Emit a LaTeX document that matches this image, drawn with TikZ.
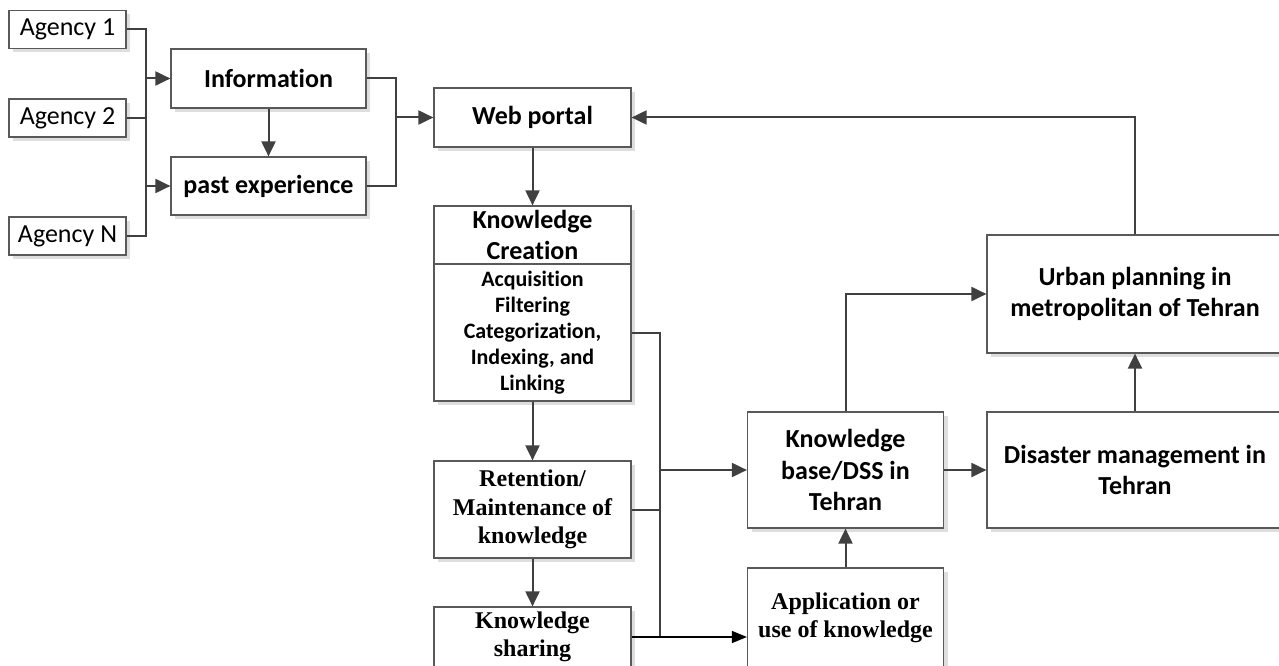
\documentclass[tikz,border=0pt]{standalone}
\usepackage{fontspec}
\setmainfont{Carlito}[Ligatures=NoCommon]
\newfontfamily\timesbold{Liberation Serif}
\usetikzlibrary{arrows.meta,shadows}
\definecolor{edgegray}{HTML}{595959}
\definecolor{wiregray}{HTML}{404040}
\tikzset{
	box/.style = {draw=edgegray, line width=1.2pt, fill=white, inner sep=0pt, align=center,
		drop shadow={shadow xshift=4pt, shadow yshift=-4pt, fill=black!13, opacity=1},
		font=\fontsize{26}{31.5}\selectfont\bfseries},
	agency/.style = {box, minimum width=117pt, minimum height=38pt, font=\fontsize{26}{31}\selectfont},
	smallbox/.style = {box, font=\fontsize{22}{26}\selectfont\bfseries},
	serifbox/.style = {box, font=\fontsize{24}{28.5}\selectfont\timesbold\bfseries},
	wire/.style = {draw=wiregray, line width=2pt},
	flow/.style = {wire, -{Triangle[length=15pt,width=14pt]}},
	thinflow/.style = {draw=black, line width=1.4pt, -{Triangle[length=15pt,width=12pt]}}
}
\begin{document}
\begin{tikzpicture}[x=1pt, y=-1pt]
	\useasboundingbox (0,0) rectangle (1279,666);
	%sources
	\foreach \n/\lbl/\y in {1/1/29.5, 2/2/118, 3/N/236}
		\node[agency] (a\n) at (67.5,\y) {Agency \lbl};
	\node[box, minimum width=195pt, minimum height=59pt] (info) at (268.5,78.5) {Information};
	\node[box, minimum width=195pt, minimum height=58pt] (past) at (268.5,186) {past experience};
	\node[box, minimum width=197pt, minimum height=59pt] (web) at (532.5,117.5) {Web portal};
	%knowledge cycle
	\node[box, minimum width=197pt, minimum height=58pt] (kct) at (532.5,235) {Knowledge\\Creation};
	\node[smallbox, minimum width=197pt, minimum height=137pt] (kcb) at (532.5,332.5)
		{Acquisition\\Filtering\\Categorization,\\Indexing, and\\Linking};
	\node[serifbox, minimum width=197pt, minimum height=97pt] (ret) at (532.5,509.5)
		{Retention/\\Maintenance of\\knowledge};
	\node[serifbox, minimum width=197pt, minimum height=60pt] (share) at (532.5,637) {Knowledge\\sharing};
	\node[box, minimum width=196pt, minimum height=116pt] (kb) at (845.5,470) {Knowledge\\base/DSS in\\Tehran};
	\node[serifbox, minimum width=196pt, minimum height=100pt] (app) at (845.5,618)
		{Application or\\use of knowledge};
	\node[box, minimum width=296pt, minimum height=118pt] (urban) at (1135,294)
		{Urban planning in\\metropolitan of Tehran};
	\node[box, minimum width=296pt, minimum height=116pt] (dis) at (1135,470)
		{Disaster management in\\Tehran};
	%joints
	\coordinate (jl) at (146,0);
	\coordinate (jr) at (396,0);
	\coordinate (jk) at (660,0);
	%connectors
	\draw[wire] (a1.east) -| (jl |- a3.east) -- (a3.east);
	\draw[wire] (a2.east) -- (jl |- a2.east);
	\draw[flow] (jl |- info.west) -- (info.west);
	\draw[flow] (jl |- past.west) -- (past.west);
	\draw[flow] (info) -- (past);
	\draw[wire] (info.east) -| (jr |- past.east) -- (past.east);
	\draw[flow] (jr |- web.west) -- (web.west);
	\draw[flow] (web) -- (kct);
	\draw[flow] (kcb) -- (ret);
	\draw[flow] (ret) -- (share);
	\draw[wire] (kcb.east) -| (jk |- share.east) -- (share.east);
	\draw[wire] (ret.east) -- (jk |- ret.east);
	\draw[flow] (jk |- kb.west) -- (kb.west);
	\draw[thinflow] (share.east) -- (share.east -| app.west);
	\draw[flow] (app) -- (kb);
	\draw[flow] (kb.north) |- (urban.west);
	\draw[flow] (kb) -- (dis);
	\draw[flow] (dis) -- (urban);
	\draw[flow] (urban.north) |- (web.east);
\end{tikzpicture}
\end{document}
